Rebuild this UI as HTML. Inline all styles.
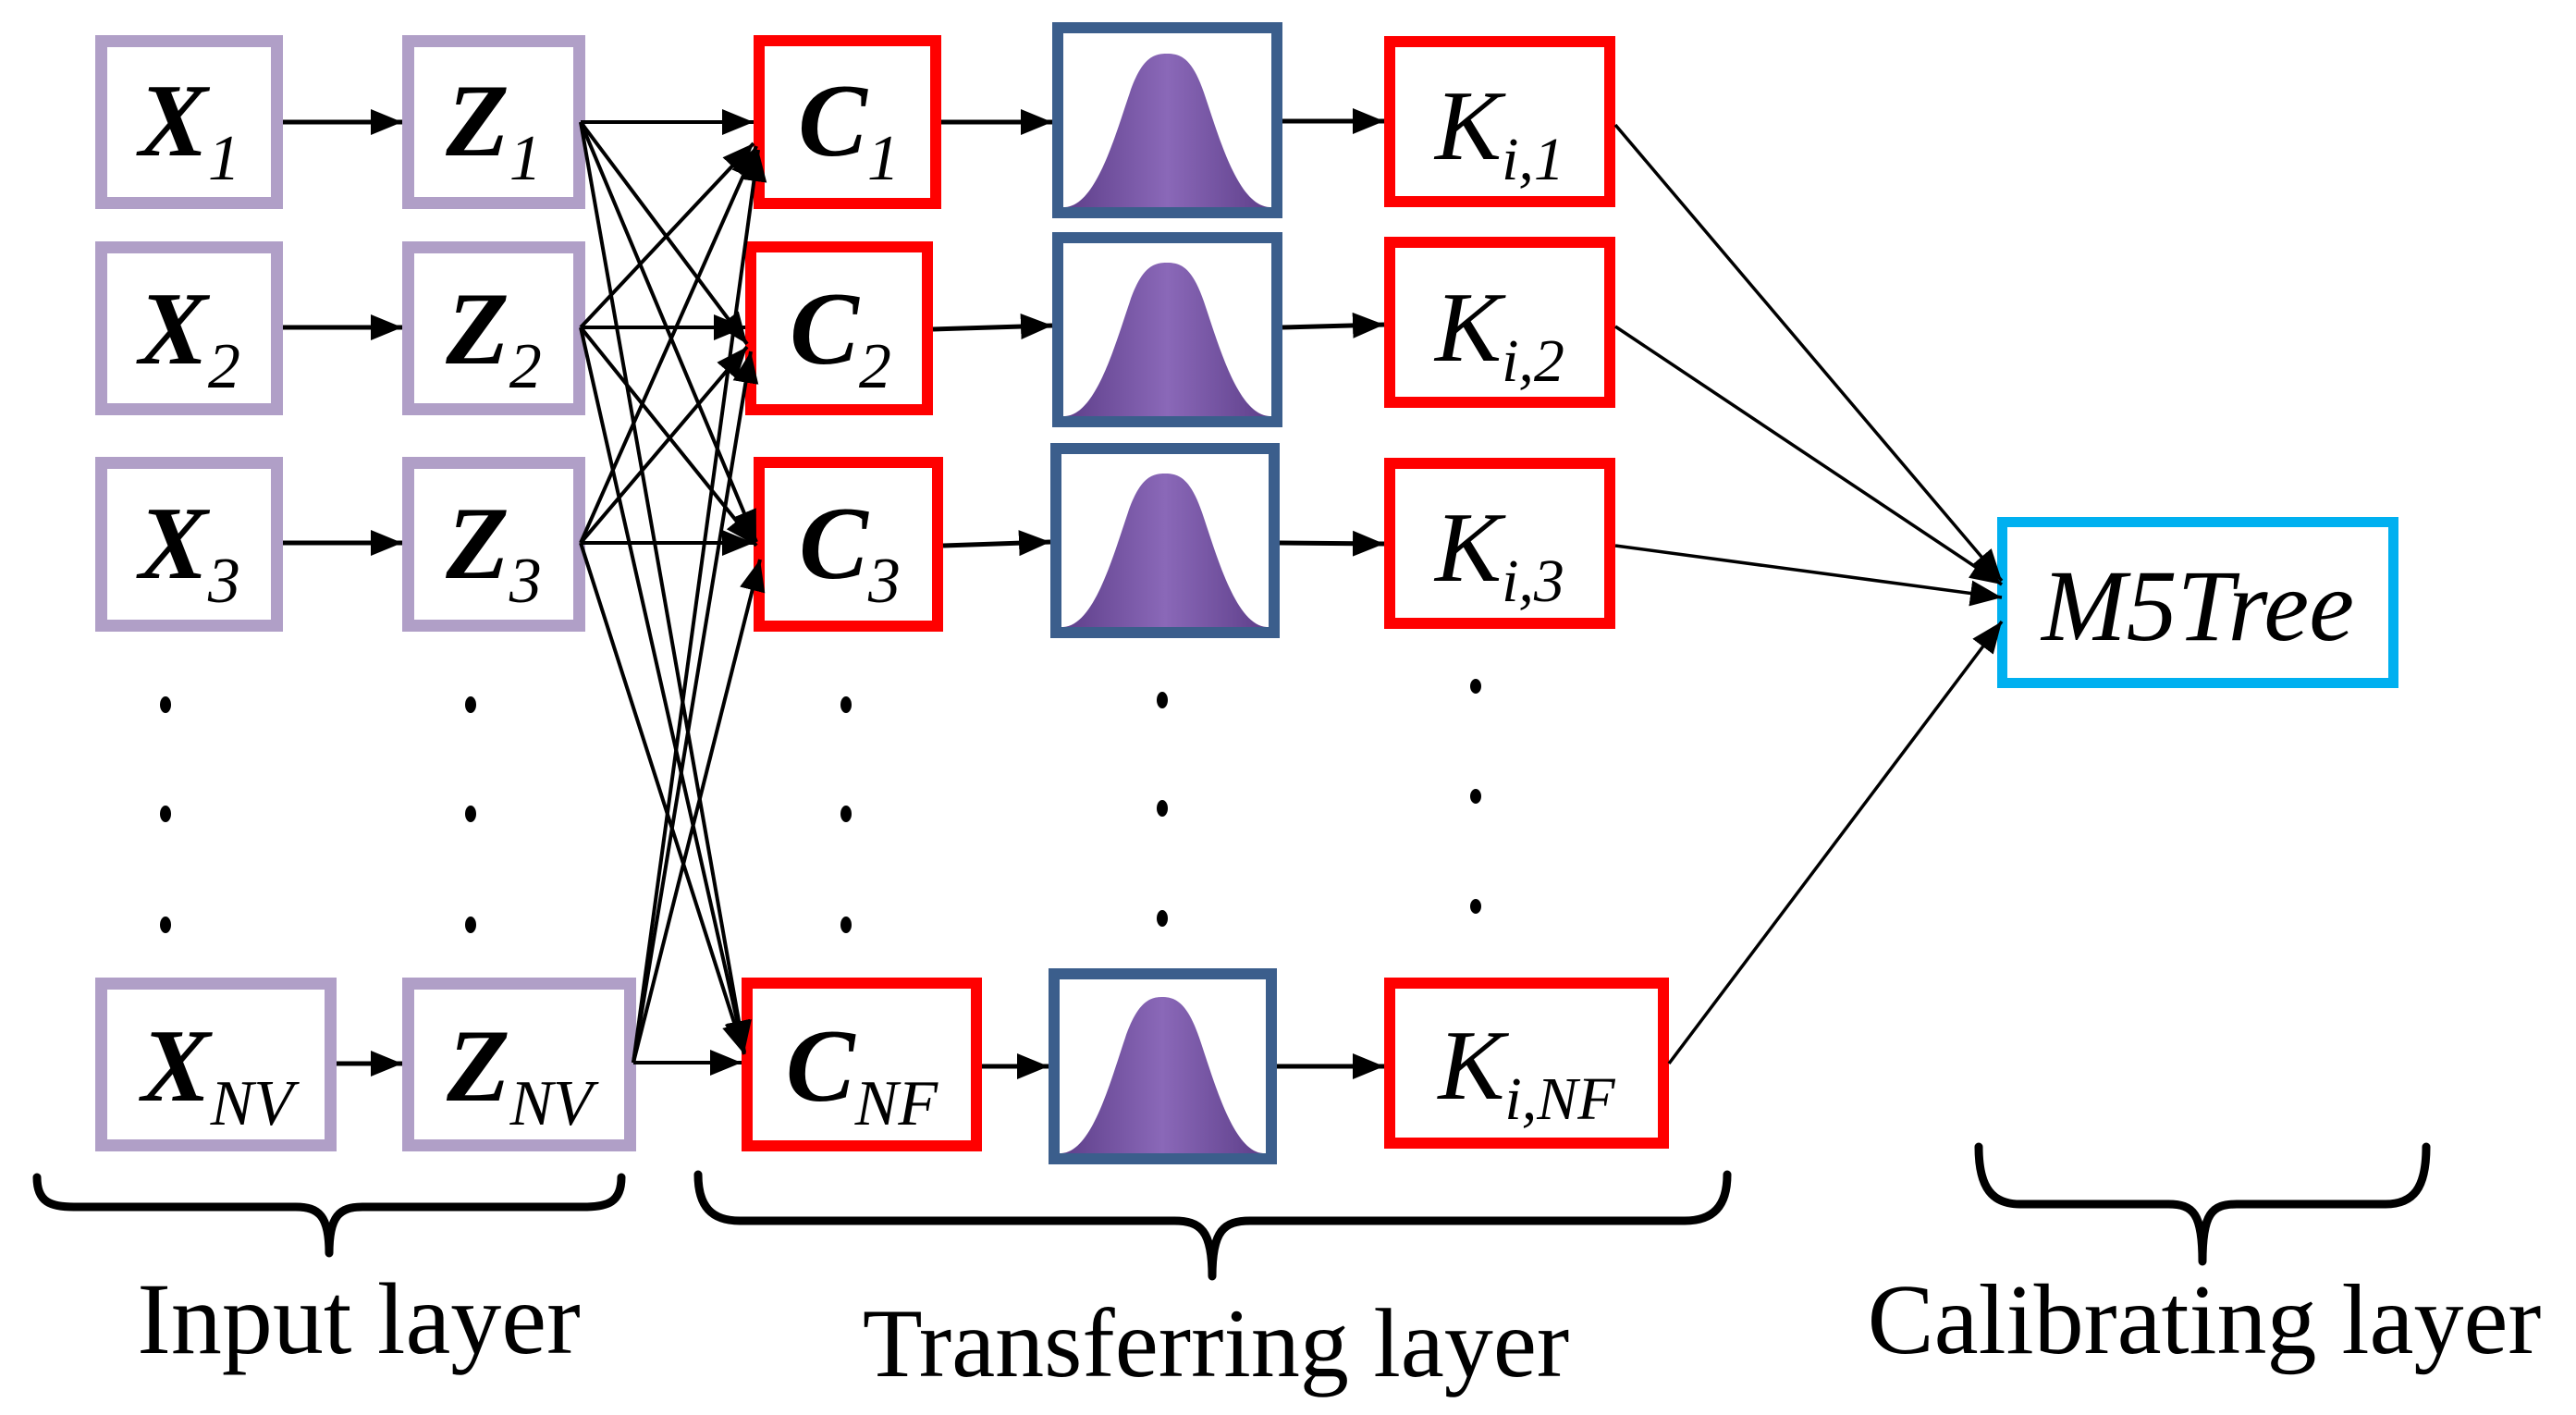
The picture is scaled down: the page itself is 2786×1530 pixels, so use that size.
<!DOCTYPE html>
<html><head><meta charset="utf-8"><style>
html,body{margin:0;padding:0;background:#fff;}
svg{display:block;}
text{font-family:"Liberation Serif",serif;}
</style></head><body>
<svg width="2786" height="1530" viewBox="0 0 2786 1530" xmlns="http://www.w3.org/2000/svg">
<defs>
<marker id="a" viewBox="0 0 10 10" refX="10" refY="5" markerWidth="34" markerHeight="28" markerUnits="userSpaceOnUse" orient="auto" preserveAspectRatio="none"><path d="M0,0 L10,5 L0,10 Z" fill="#000"/></marker>
<linearGradient id="g" x1="0" y1="0" x2="1" y2="0">
<stop offset="0" stop-color="#5e3f8a"/><stop offset="0.5" stop-color="#8a68b8"/><stop offset="1" stop-color="#5e3f8a"/>
</linearGradient>
</defs>
<g fill="none" stroke="#b09fc7" stroke-width="13">
<rect x="109.5" y="44.5" width="190" height="175"/>
<rect x="441.5" y="44.5" width="185" height="175"/>
<rect x="109.5" y="267.5" width="190" height="175"/>
<rect x="441.5" y="267.5" width="185" height="175"/>
<rect x="109.5" y="500.5" width="190" height="176"/>
<rect x="441.5" y="500.5" width="185" height="176"/>
<rect x="109.5" y="1063.5" width="248" height="175"/>
<rect x="441.5" y="1063.5" width="240" height="175"/>
</g>
<g fill="none" stroke="#ff0000" stroke-width="12">
<rect x="821" y="44" width="191" height="176"/>
<rect x="812" y="267" width="191" height="176"/>
<rect x="821" y="500" width="193" height="177"/>
<rect x="808" y="1063" width="248" height="176"/>
<rect x="1503" y="45" width="238" height="173"/>
<rect x="1503" y="262" width="238" height="173"/>
<rect x="1503" y="501" width="238" height="173"/>
<rect x="1503" y="1063" width="296" height="173"/>
</g>
<rect x="2165.5" y="564.5" width="423" height="174" fill="none" stroke="#00b0f0" stroke-width="11"/>
<g fill="none" stroke="#3b5e8c" stroke-width="12">
<rect x="1144" y="30" width="237" height="200"/>
<rect x="1144" y="257" width="237" height="199"/>
<rect x="1142" y="485" width="236" height="199"/>
<rect x="1140" y="1053" width="235" height="200"/>
</g>
<g fill="url(#g)">
<path d="M1152,224 C1185,222 1205,150 1222,100 C1235,62 1248,58 1262,58 C1276,58 1289,62 1302,100 C1319,150 1339,222 1373,224 Z"/>
<path d="M1152,450 C1185,448 1205,376 1222,326 C1235,288 1248,284 1262,284 C1276,284 1289,288 1302,326 C1319,376 1339,448 1373,450 Z"/>
<path d="M1150,678 C1183,676 1203,604 1220,554 C1233,516 1246,512 1260,512 C1274,512 1287,516 1300,554 C1317,604 1337,676 1370,678 Z"/>
<path d="M1148,1247 C1181,1245 1200,1172 1217,1122 C1230,1084 1243,1078 1257,1078 C1271,1078 1284,1084 1297,1122 C1314,1172 1334,1245 1366,1247 Z"/>
</g>
<g stroke="#000" stroke-width="5" fill="none" marker-end="url(#a)">
<line x1="306" y1="132" x2="435" y2="132"/>
<line x1="306" y1="354" x2="435" y2="354"/>
<line x1="306" y1="587" x2="435" y2="587"/>
<line x1="364" y1="1150" x2="435" y2="1150"/>
<line x1="1018" y1="132" x2="1138" y2="132"/>
<line x1="1009" y1="356" x2="1138" y2="352"/>
<line x1="1020" y1="590" x2="1136" y2="586"/>
<line x1="1062" y1="1153" x2="1134" y2="1153"/>
<line x1="1387" y1="131" x2="1497" y2="131"/>
<line x1="1387" y1="354" x2="1497" y2="351"/>
<line x1="1384" y1="587" x2="1497" y2="588"/>
<line x1="1381" y1="1153" x2="1497" y2="1153"/>
</g>
<g stroke="#000" stroke-width="4" fill="none" marker-end="url(#a)">
<line x1="628" y1="132" x2="815" y2="132"/>
<line x1="628" y1="354" x2="815" y2="155"/>
<line x1="628" y1="587" x2="818" y2="158"/>
<line x1="685" y1="1149" x2="820" y2="162"/>
<line x1="628" y1="132" x2="808" y2="372"/>
<line x1="628" y1="354" x2="806" y2="354"/>
<line x1="628" y1="587" x2="808" y2="375"/>
<line x1="685" y1="1149" x2="812" y2="380"/>
<line x1="628" y1="132" x2="818" y2="586"/>
<line x1="628" y1="354" x2="818" y2="590"/>
<line x1="628" y1="587" x2="815" y2="587"/>
<line x1="685" y1="1149" x2="822" y2="605"/>
<line x1="628" y1="132" x2="805" y2="1138"/>
<line x1="628" y1="354" x2="805" y2="1138"/>
<line x1="628" y1="587" x2="805" y2="1140"/>
<line x1="685" y1="1149" x2="802" y2="1149"/>
</g>
<g stroke="#000" stroke-width="3.5" fill="none" marker-end="url(#a)">
<line x1="1747" y1="135" x2="2165" y2="628"/>
<line x1="1747" y1="353" x2="2165" y2="632"/>
<line x1="1747" y1="590" x2="2165" y2="646"/>
<line x1="1805" y1="1150" x2="2165" y2="672"/>
</g>
<g fill="#000">
<ellipse cx="179" cy="762" rx="6" ry="9"/><ellipse cx="509" cy="762" rx="6" ry="9"/><ellipse cx="915" cy="762" rx="6" ry="9"/><ellipse cx="1257" cy="757" rx="6" ry="9"/>
<ellipse cx="179" cy="880" rx="6" ry="9"/><ellipse cx="509" cy="880" rx="6" ry="9"/><ellipse cx="915" cy="880" rx="6" ry="9"/><ellipse cx="1257" cy="874" rx="6" ry="9"/>
<ellipse cx="179" cy="1000" rx="6" ry="9"/><ellipse cx="509" cy="1000" rx="6" ry="9"/><ellipse cx="915" cy="1000" rx="6" ry="9"/><ellipse cx="1257" cy="993" rx="6" ry="9"/>
<ellipse cx="1596" cy="742" rx="6" ry="8"/><ellipse cx="1596" cy="861" rx="6" ry="8"/><ellipse cx="1596" cy="980" rx="6" ry="8"/>
</g>
<g font-size="112" fill="#000" text-anchor="middle">
<text x="205" y="168"><tspan font-weight="bold" font-style="italic">X</tspan><tspan font-style="italic" font-size="70" dy="26">1</tspan></text>
<text x="534" y="168"><tspan font-weight="bold" font-style="italic">Z</tspan><tspan font-style="italic" font-size="70" dy="26">1</tspan></text>
<text x="205" y="393"><tspan font-weight="bold" font-style="italic">X</tspan><tspan font-style="italic" font-size="70" dy="26">2</tspan></text>
<text x="534" y="393"><tspan font-weight="bold" font-style="italic">Z</tspan><tspan font-style="italic" font-size="70" dy="26">2</tspan></text>
<text x="205" y="625"><tspan font-weight="bold" font-style="italic">X</tspan><tspan font-style="italic" font-size="70" dy="26">3</tspan></text>
<text x="534" y="625"><tspan font-weight="bold" font-style="italic">Z</tspan><tspan font-style="italic" font-size="70" dy="26">3</tspan></text>
<text x="235" y="1190"><tspan font-weight="bold" font-style="italic">X</tspan><tspan font-style="italic" font-size="70" dy="26">NV</tspan></text>
<text x="562" y="1190"><tspan font-weight="bold" font-style="italic">Z</tspan><tspan font-style="italic" font-size="70" dy="26">NV</tspan></text>
<text x="918" y="168"><tspan font-weight="bold" font-style="italic">C</tspan><tspan font-style="italic" font-size="70" dy="26">1</tspan></text>
<text x="909" y="393"><tspan font-weight="bold" font-style="italic">C</tspan><tspan font-style="italic" font-size="70" dy="26">2</tspan></text>
<text x="919" y="625"><tspan font-weight="bold" font-style="italic">C</tspan><tspan font-style="italic" font-size="70" dy="26">3</tspan></text>
<text x="932" y="1190"><tspan font-weight="bold" font-style="italic">C</tspan><tspan font-style="italic" font-size="70" dy="26">NF</tspan></text>
<text x="1622" y="172" font-size="108"><tspan font-style="italic">K</tspan><tspan font-style="italic" font-size="66" dy="22">i,1</tspan></text>
<text x="1622" y="390" font-size="108"><tspan font-style="italic">K</tspan><tspan font-style="italic" font-size="66" dy="22">i,2</tspan></text>
<text x="1622" y="628" font-size="108"><tspan font-style="italic">K</tspan><tspan font-style="italic" font-size="66" dy="22">i,3</tspan></text>
<text x="1651" y="1188" font-size="108"><tspan font-style="italic">K</tspan><tspan font-style="italic" font-size="66" dy="22">i,NF</tspan></text>
<text x="2377" y="692" font-style="italic" font-size="110">M5Tree</text>
<text x="388" y="1463" font-size="110">Input layer</text>
<text x="1315" y="1488" font-size="106">Transferring layer</text>
<text x="2384" y="1463" font-size="108">Calibrating layer</text>
</g>
<g fill="none" stroke="#000" stroke-width="9" stroke-linecap="round" stroke-linejoin="round">
<path d="M40,1273 C40,1300 55,1305 80,1305 L320,1305 C345,1305 356,1315 356,1355 C356,1315 367,1305 392,1305 L632,1305 C657,1305 672,1300 672,1273"/>
<path d="M755,1270 C755,1305 770,1320 800,1320 L1270,1320 C1298,1320 1311,1330 1311,1380 C1311,1330 1324,1320 1352,1320 L1822,1320 C1852,1320 1868,1305 1868,1270"/>
<path d="M2140,1240 C2140,1285 2155,1302 2185,1302 L2345,1302 C2372,1302 2382,1312 2382,1364 C2382,1312 2392,1302 2419,1302 L2580,1302 C2610,1302 2624,1285 2624,1240"/>
</g>
</svg>
</body></html>
